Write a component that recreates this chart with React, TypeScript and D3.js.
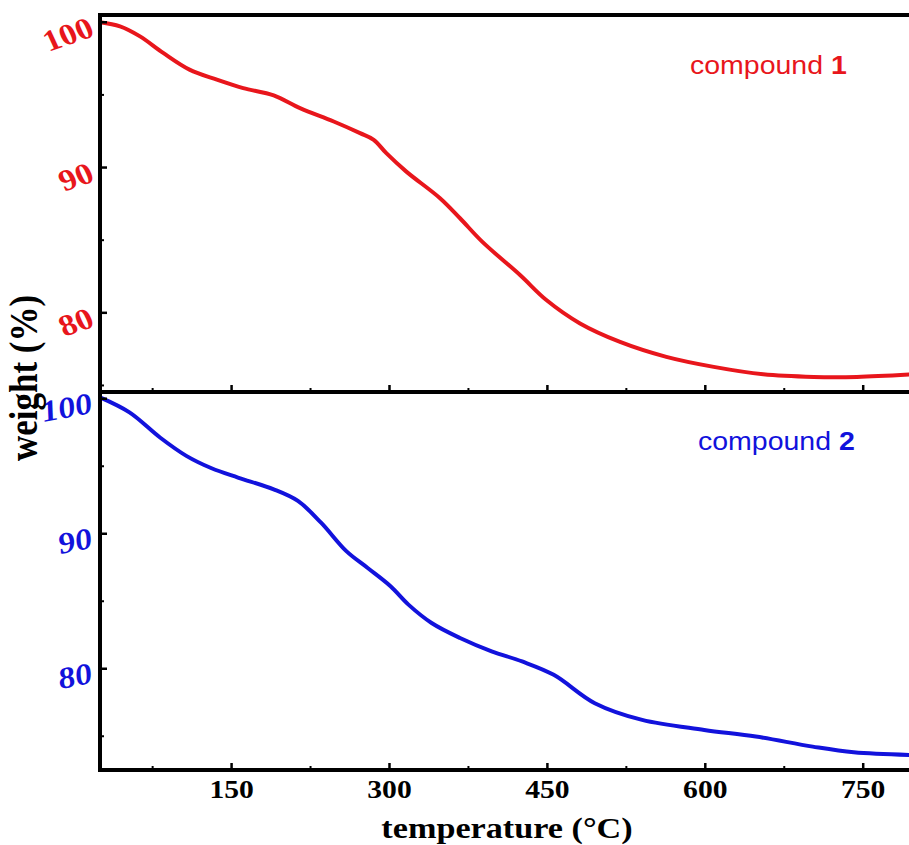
import React from "react";
import * as d3 from "d3";

const temps1 = [25, 44, 63, 85, 110, 136, 161, 190, 215, 247, 272, 285, 297, 316, 348, 367, 388, 424, 449, 481, 519, 563, 608, 655, 703, 744, 800];
const weight1 = [100.0, 99.72, 99.03, 97.89, 96.74, 96.05, 95.47, 94.97, 94.09, 93.17, 92.37, 91.91, 90.99, 89.72, 87.89, 86.51, 84.9, 82.6, 80.88, 79.27, 78.0, 76.97, 76.28, 75.77, 75.59, 75.59, 75.78];

const temps2 = [25, 53, 82, 107, 131, 156, 190, 213, 235, 259, 279, 301, 318, 340, 367, 397, 426, 456, 495, 540, 599, 648, 702, 741, 800];
const weight2 = [100.1, 98.99, 97.13, 95.77, 94.85, 94.16, 93.29, 92.43, 90.82, 88.71, 87.48, 86.11, 84.75, 83.39, 82.28, 81.29, 80.54, 79.55, 77.45, 76.21, 75.47, 74.98, 74.23, 73.81, 73.6];

const xMajor = [150, 300, 450, 600, 750];
const xMinor = [75, 225, 375, 525, 675];
const yMajor = [100, 90, 80];
const yMinor1 = [95, 85, 75];
const yMinor2 = [95, 85, 75];

const RED = "#e8161c";
const BLUE = "#1212dc";
const SX = 1.14;

export default function App() {
  const W = 909, H = 845;
  const x = d3.scaleLinear().domain([25, 800]).range([100, 100 + 775 * 1.0527]);
  const y1 = d3.scaleLinear().domain([74.55, 100.5]).range([392, 15]);
  const y2 = d3.scaleLinear().domain([72.5, 100.5]).range([770, 392]);

  const line1 = d3.line<number>().x((d, i) => x(temps1[i])).y(d => y1(d)).curve(d3.curveCatmullRom.alpha(0.5));
  const line2 = d3.line<number>().x((d, i) => x(temps2[i])).y(d => y2(d)).curve(d3.curveCatmullRom.alpha(0.5));

  const serif = "'Liberation Serif', 'Times New Roman', serif";
  const sans = "'Liberation Sans', Arial, sans-serif";
  const xRight = x(800);

  return (
    <svg width={W} height={H} style={{ position: "absolute", left: 0, top: 0, background: "#fff" }}>
      <path d={line1(weight1) || ""} fill="none" stroke={RED} strokeWidth={4} strokeLinejoin="round" />
      <path d={line2(weight2) || ""} fill="none" stroke={BLUE} strokeWidth={4} strokeLinejoin="round" />

      {/* frames */}
      <line x1={98} x2={xRight + 5} y1={15} y2={15} stroke="#000" strokeWidth={4} />
      <line x1={98} x2={xRight + 5} y1={392} y2={392} stroke="#000" strokeWidth={4} />
      <line x1={98} x2={xRight + 5} y1={770} y2={770} stroke="#000" strokeWidth={4} />
      <line x1={100} x2={100} y1={13} y2={772} stroke="#000" strokeWidth={4} />

      {/* x ticks on both bottom axes */}
      {[392, 770].map(by => (
        <g key={by}>
          {xMajor.map(t => (
            <line key={"M" + t} x1={x(t)} x2={x(t)} y1={by} y2={by - 7} stroke="#000" strokeWidth={2.5} />
          ))}
          {xMinor.map(t => (
            <line key={"m" + t} x1={x(t)} x2={x(t)} y1={by} y2={by - 4} stroke="#000" strokeWidth={2} />
          ))}
        </g>
      ))}

      {/* y ticks */}
      {yMajor.map(v => (
        <line key={"a" + v} x1={100} x2={107} y1={y1(v)} y2={y1(v)} stroke="#000" strokeWidth={2.5} />
      ))}
      {yMinor1.map(v => (
        <line key={"b" + v} x1={100} x2={104} y1={y1(v)} y2={y1(v)} stroke="#000" strokeWidth={2} />
      ))}
      {yMajor.map(v => (
        <line key={"c" + v} x1={100} x2={107} y1={y2(v)} y2={y2(v)} stroke="#000" strokeWidth={2.5} />
      ))}
      {yMinor2.map(v => (
        <line key={"d" + v} x1={100} x2={104} y1={y2(v)} y2={y2(v)} stroke="#000" strokeWidth={2} />
      ))}

      {/* y tick labels */}
      {yMajor.map(v => (
        <text key={"ta" + v} transform={`translate(96,${y1(v) + 13}) scale(${SX},1) rotate(-22)`}
          textAnchor="end" fontFamily={serif} fontWeight="bold" fontSize={30} fill={RED}>{v}</text>
      ))}
      {yMajor.map(v => (
        <text key={"tb" + v} transform={`translate(94,${y2(v) + 14}) scale(${SX},1) rotate(-12)`}
          textAnchor="end" fontFamily={serif} fontWeight="bold" fontStyle="italic" fontSize={30} fill={BLUE}>{v}</text>
      ))}

      {/* x tick labels */}
      {xMajor.map(t => (
        <text key={"tx" + t} transform={`translate(${x(t)},798) scale(${SX},1)`} textAnchor="middle"
          fontFamily={serif} fontWeight="bold" fontSize={26} fill="#000">{t}</text>
      ))}

      {/* axis titles */}
      <text transform={`translate(507,838) scale(${SX},1)`} textAnchor="middle" fontFamily={serif}
        fontWeight="bold" fontSize={30} fill="#000">temperature (°C)</text>
      <text transform={`translate(37,378) scale(${SX},1) rotate(-90)`} textAnchor="middle" fontFamily={serif}
        fontWeight="bold" fontSize={35} fill="#000">weight (%)</text>

      {/* legends */}
      <text transform={`translate(690,74) scale(${SX},1)`} fontFamily={sans} fontSize={25} fill={RED}>
        compound <tspan fontWeight="bold">1</tspan>
      </text>
      <text transform={`translate(698,450) scale(${SX},1)`} fontFamily={sans} fontSize={25} fill={BLUE}>
        compound <tspan fontWeight="bold">2</tspan>
      </text>
    </svg>
  );
}
